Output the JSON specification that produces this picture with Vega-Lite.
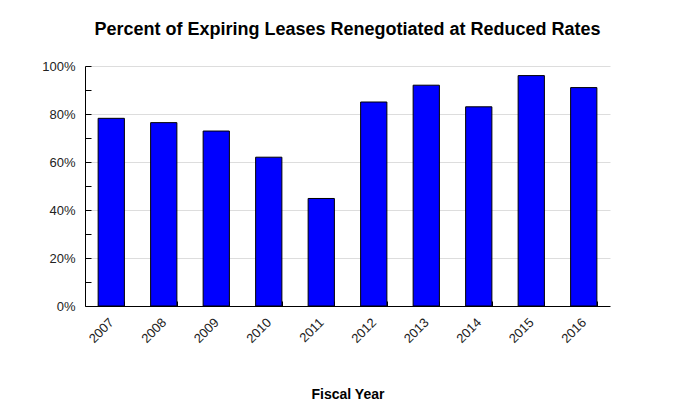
{
  "$schema": "https://vega.github.io/schema/vega-lite/v6.json",
  "width": 525,
  "height": 240,
  "autosize": "none",
  "padding": {"left": 85, "top": 66, "right": 68, "bottom": 95},
  "background": "white",
  "title": {"text": "Percent of Expiring Leases Renegotiated at Reduced Rates", "font": "Liberation Sans", "fontSize": 18, "fontWeight": "bold", "color": "black", "anchor": "middle", "offset": 21},
  "data": {"values": [
    {"year": "2007", "pct": 78.2},
    {"year": "2008", "pct": 76.4},
    {"year": "2009", "pct": 72.9},
    {"year": "2010", "pct": 62},
    {"year": "2011", "pct": 44.8},
    {"year": "2012", "pct": 85},
    {"year": "2013", "pct": 92},
    {"year": "2014", "pct": 83},
    {"year": "2015", "pct": 96},
    {"year": "2016", "pct": 91}
  ]},
  "mark": {"type": "bar", "color": "#0000FF", "stroke": "black", "strokeWidth": 1},
  "encoding": {
    "x": {"field": "year", "type": "ordinal", "scale": {"paddingInner": 0.5, "paddingOuter": 0.25},
      "axis": {"title": "Fiscal Year", "titleFont": "Liberation Sans", "titleFontSize": 14, "titleFontWeight": "bold", "titleColor": "black", "titlePadding": 42,
        "labelAngle": -45, "labelAlign": "right", "labelBaseline": "middle", "labelFont": "Liberation Sans", "labelFontSize": 13, "labelColor": "#222222", "labelPadding": 19,
        "tickBand": "extent", "tickSize": -5, "tickColor": "black", "tickWidth": 1, "domainColor": "black", "grid": false}},
    "y": {"field": "pct", "type": "quantitative", "scale": {"domain": [0, 100]},
      "axis": {"title": null, "values": [0,10,20,30,40,50,60,70,80,90,100], "labelExpr": "datum.value % 20 == 0 ? datum.value + '%' : ''",
        "labelFont": "Liberation Sans", "labelFontSize": 13, "labelColor": "#222222", "labelPadding": 16,
        "tickSize": -6, "tickColor": "black", "domainColor": "black",
        "grid": true, "gridColor": "#dddddd", "gridOpacity": {"condition": {"test": "datum.value % 20 == 0 && datum.value > 0", "value": 1}, "value": 0}}}
  },
  "config": {"view": {"stroke": null}}
}
